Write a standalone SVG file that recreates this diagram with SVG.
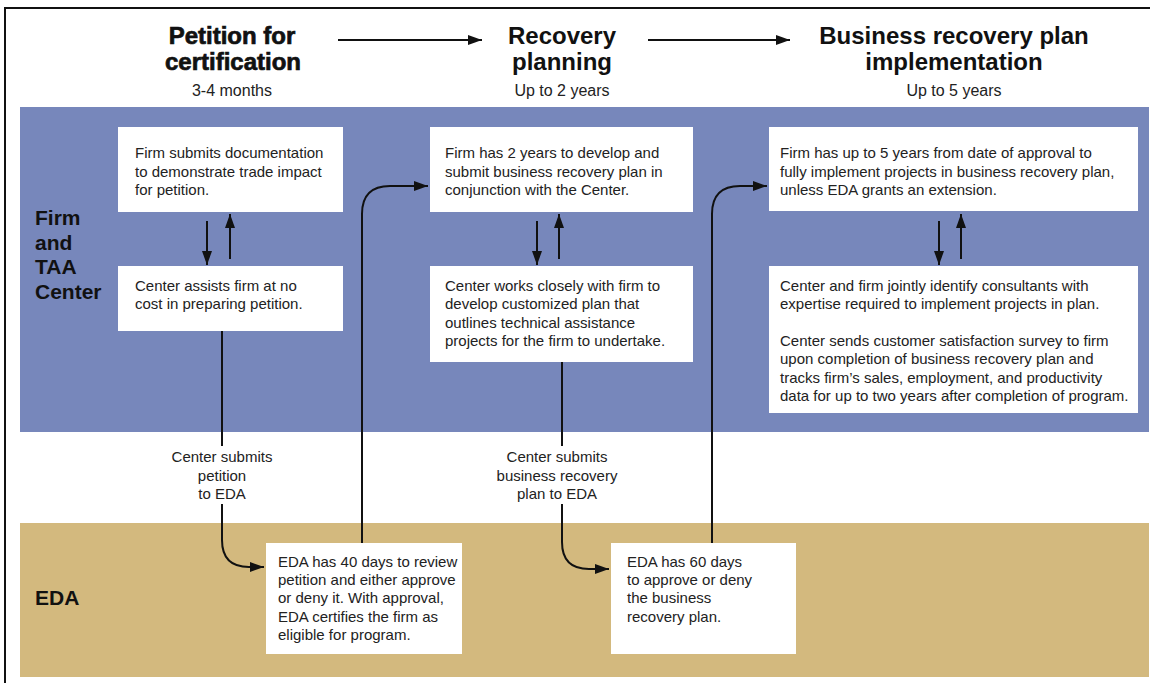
<svg xmlns="http://www.w3.org/2000/svg" width="1150" height="683" viewBox="0 0 1150 683">
  <defs>
    <marker id="ah" viewBox="0 0 14 10" refX="14" refY="5" markerWidth="14" markerHeight="10" markerUnits="userSpaceOnUse" orient="auto">
      <path d="M0,0 L14,5 L0,10 Z" fill="#111"/>
    </marker>
    <style>
      .box { fill: #ffffff; }
      .t { font-family: "Liberation Sans", Arial, sans-serif; font-size: 15px; fill: #222; }
      .tc { font-family: "Liberation Sans", Arial, sans-serif; font-size: 15px; fill: #222; text-anchor: middle; }
      .h { font-family: "Liberation Sans", Arial, sans-serif; font-size: 24px; font-weight: bold; fill: #111; text-anchor: middle; }
      .hp { stroke: #111; stroke-width: 0.7; }
      .sub { font-family: "Liberation Sans", Arial, sans-serif; font-size: 16px; fill: #222; text-anchor: middle; }
      .lane { font-family: "Liberation Sans", Arial, sans-serif; font-size: 21px; font-weight: bold; fill: #111; }
      .c { fill: none; stroke: #111; stroke-width: 2; }
    </style>
  </defs>

  <rect x="0" y="0" width="1150" height="683" fill="#ffffff"/>
  <path d="M5,683 L5,8 L1150,8" fill="none" stroke="#111" stroke-width="2"/>

  <!-- lanes -->
  <rect id="lane-firm" x="20" y="107" width="1129" height="325" fill="#7787bb"/>
  <rect id="lane-eda" x="20" y="523" width="1129" height="154" fill="#d3b97e"/>

  <g id="lane-labels">
    <text class="lane" x="35" y="225">Firm</text>
    <text class="lane" x="35" y="250">and</text>
    <text class="lane" x="35" y="274">TAA</text>
    <text class="lane" x="35" y="299">Center</text>
    <text class="lane" x="35" y="605">EDA</text>
  </g>

  <!-- headers -->
  <g id="header-petition">
    <text class="h hp" x="232" y="44">Petition for</text>
    <text class="h hp" x="233" y="70">certification</text>
    <text class="sub" x="232" y="96">3-4 months</text>
  </g>
  <g id="header-recovery">
    <text class="h" x="562" y="44">Recovery</text>
    <text class="h" x="562" y="70">planning</text>
    <text class="sub" x="562" y="96">Up to 2 years</text>
  </g>
  <g id="header-implementation">
    <text class="h" x="954" y="44">Business recovery plan</text>
    <text class="h" x="954" y="70">implementation</text>
    <text class="sub" x="954" y="96">Up to 5 years</text>
  </g>

  <!-- nodes -->
  <g id="n-firm-submits">
    <rect class="box" x="118" y="127" width="225" height="85"/>
    <text class="t" x="135" y="158">Firm submits documentation</text>
    <text class="t" x="135" y="177">to demonstrate trade impact</text>
    <text class="t" x="135" y="195">for petition.</text>
  </g>
  <g id="n-center-assists">
    <rect class="box" x="118" y="266" width="225" height="65"/>
    <text class="t" x="135" y="291">Center assists firm at no</text>
    <text class="t" x="135" y="309">cost in preparing petition.</text>
  </g>
  <g id="n-firm-2years">
    <rect class="box" x="430" y="127" width="263" height="85"/>
    <text class="t" x="445" y="158">Firm has 2 years to develop and</text>
    <text class="t" x="445" y="177">submit business recovery plan in</text>
    <text class="t" x="445" y="195">conjunction with the Center.</text>
  </g>
  <g id="n-center-works">
    <rect class="box" x="430" y="266" width="263" height="96"/>
    <text class="t" x="445" y="291">Center works closely with firm to</text>
    <text class="t" x="445" y="309">develop customized plan that</text>
    <text class="t" x="445" y="328">outlines technical assistance</text>
    <text class="t" x="445" y="346">projects for the firm to undertake.</text>
  </g>
  <g id="n-firm-5years">
    <rect class="box" x="769" y="127" width="369" height="84"/>
    <text class="t" x="780" y="158">Firm has up to 5 years from date of approval to</text>
    <text class="t" x="780" y="177">fully implement projects in business recovery plan,</text>
    <text class="t" x="780" y="195">unless EDA grants an extension.</text>
  </g>
  <g id="n-center-firm-jointly">
    <rect class="box" x="769" y="266" width="369" height="147"/>
    <text class="t" x="780" y="291">Center and firm jointly identify consultants with</text>
    <text class="t" x="780" y="309">expertise required to implement projects in plan.</text>
    <text class="t" x="780" y="346">Center sends customer satisfaction survey to firm</text>
    <text class="t" x="780" y="364">upon completion of business recovery plan and</text>
    <text class="t" x="780" y="383">tracks firm’s sales, employment, and productivity</text>
    <text class="t" x="780" y="401">data for up to two years after completion of program.</text>
  </g>
  <g id="n-eda-40">
    <rect class="box" x="266" y="543" width="196" height="111"/>
    <text class="t" x="278" y="567">EDA has 40 days to review</text>
    <text class="t" x="278" y="585">petition and either approve</text>
    <text class="t" x="278" y="603">or deny it. With approval,</text>
    <text class="t" x="278" y="622">EDA certifies the firm as</text>
    <text class="t" x="278" y="640">eligible for program.</text>
  </g>
  <g id="n-eda-60">
    <rect class="box" x="611" y="543" width="185" height="111"/>
    <text class="t" x="627" y="567">EDA has 60 days</text>
    <text class="t" x="627" y="585">to approve or deny</text>
    <text class="t" x="627" y="603">the business</text>
    <text class="t" x="627" y="622">recovery plan.</text>
  </g>

  <!-- connectors -->
  <g id="connectors">
    <line class="c" x1="338" y1="40" x2="482" y2="40" marker-end="url(#ah)"/>
    <line class="c" x1="648" y1="40" x2="790" y2="40" marker-end="url(#ah)"/>

    <line class="c" x1="207" y1="221" x2="207" y2="265" marker-end="url(#ah)"/>
    <line class="c" x1="230" y1="259" x2="230" y2="214" marker-end="url(#ah)"/>
    <line class="c" x1="537" y1="221" x2="537" y2="265" marker-end="url(#ah)"/>
    <line class="c" x1="559" y1="259" x2="559" y2="214" marker-end="url(#ah)"/>
    <line class="c" x1="939" y1="221" x2="939" y2="265" marker-end="url(#ah)"/>
    <line class="c" x1="961" y1="259" x2="961" y2="214" marker-end="url(#ah)"/>

    <line class="c" x1="222" y1="331" x2="222" y2="446"/>
    <path class="c" d="M222,504 L222,540 Q222,567 249,567 L264,567" marker-end="url(#ah)"/>
    <text class="tc" x="222" y="462">Center submits</text>
    <text class="tc" x="222" y="481">petition</text>
    <text class="tc" x="222" y="499">to EDA</text>

    <line class="c" x1="562" y1="362" x2="562" y2="446"/>
    <path class="c" d="M562,504 L562,542 Q562,569 589,569 L609,569" marker-end="url(#ah)"/>
    <text class="tc" x="557" y="462">Center submits</text>
    <text class="tc" x="557" y="481">business recovery</text>
    <text class="tc" x="557" y="499">plan to EDA</text>

    <path class="c" d="M362,543 L362,214 Q362,186 390,186 L428,186" marker-end="url(#ah)"/>
    <path class="c" d="M712,543 L712,214 Q712,186 740,186 L767,186" marker-end="url(#ah)"/>
  </g>
</svg>
